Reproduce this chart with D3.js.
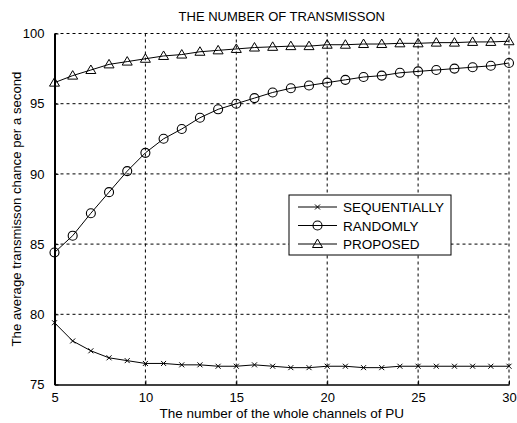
<!DOCTYPE html>
<html>
<head>
<meta charset="utf-8">
<script src="https://cdnjs.cloudflare.com/ajax/libs/d3/7.8.5/d3.min.js"></script>
<style>
  body { margin: 0; background: #fff; }
  svg text { font-family: "Liberation Sans", Arial, sans-serif; fill: #000; }
  .grid line { stroke: #000; stroke-width: 1; stroke-dasharray: 3,3; }
</style>
</head>
<body>
<script>
// channel counts on the x axis
const channels = d3.range(5, 31);

const sequentially = [79.4, 78.1, 77.4, 76.9, 76.7, 76.5, 76.5, 76.4, 76.4, 76.3, 76.3, 76.4, 76.3, 76.2, 76.2,
    76.3, 76.3, 76.2, 76.2, 76.3, 76.3, 76.3, 76.3, 76.3, 76.3, 76.3];
const randomly = [84.4, 85.6, 87.2, 88.7, 90.2, 91.5, 92.5, 93.2, 94.0, 94.6, 95.0, 95.4, 95.8, 96.1, 96.3,
    96.5, 96.7, 96.9, 97.0, 97.2, 97.3, 97.4, 97.5, 97.6, 97.7, 97.9];
const proposed = [96.5, 97.0, 97.4, 97.8, 98.0, 98.2, 98.4, 98.5, 98.7, 98.8, 98.9, 99.0, 99.05, 99.1, 99.1,
    99.2, 99.2, 99.25, 99.25, 99.3, 99.3, 99.35, 99.35, 99.4, 99.4, 99.45];

const xTicks = [5, 10, 15, 20, 25, 30];
const yTicks = [75, 80, 85, 90, 95, 100];
const seriesNames = ['SEQUENTIALLY', 'RANDOMLY', 'PROPOSED'];

const width = 517, height = 423;
const margin = { 'top': 33.5, 'bottom': 38.5, 'left': 54.5, 'right': 8 };

const svg = d3.select('body').append('svg')
    .attr('width', width)
    .attr('height', height);

let xScale = d3.scaleLinear().domain([5, 30]).range([margin.left, width - margin.right]);
let yScale = d3.scaleLinear().domain([75, 100]).range([height - margin.bottom, margin.top]);

// dotted grid
let grid = svg.append('g').attr('class', 'grid');
grid.selectAll('line.v').data(xTicks.slice(1)).enter().append('line')
    .attr('x1', d => xScale(d)).attr('x2', d => xScale(d))
    .attr('y1', yScale(75)).attr('y2', yScale(100));
grid.selectAll('line.h').data(yTicks.slice(1)).enter().append('line')
    .attr('x1', xScale(5)).attr('x2', xScale(30))
    .attr('y1', d => yScale(d)).attr('y2', d => yScale(d));

// axes, ticks pointing inward
svg.append('g')
    .attr('transform', 'translate(0,' + yScale(75) + ')')
    .call(d3.axisBottom(xScale).tickValues(xTicks).tickSizeInner(-4).tickSizeOuter(0).tickPadding(8))
    .call(g => g.select('.domain').attr('stroke-width', 1.5))
    .selectAll('text').style('font-size', '13px');

svg.append('g')
    .attr('transform', 'translate(' + xScale(5) + ',0)')
    .call(d3.axisLeft(yScale).tickValues(yTicks).tickSizeInner(-4).tickSizeOuter(0).tickPadding(10))
    .call(g => g.select('.domain').attr('stroke-width', 2))
    .selectAll('text').style('font-size', '13px');

// title and labels
svg.append('text')
    .attr('x', (xScale(5) + xScale(30)) / 2)
    .attr('y', 21)
    .attr('text-anchor', 'middle')
    .style('font-size', '13px')
    .text('THE NUMBER OF TRANSMISSON');

svg.append('text')
    .attr('x', (xScale(5) + xScale(30)) / 2)
    .attr('y', 418)
    .attr('text-anchor', 'middle')
    .style('font-size', '13.5px')
    .text('The number of the whole channels of PU');

svg.append('text')
    .attr('transform', 'translate(21,' + (yScale(75) + yScale(100)) / 2 + ') rotate(-90)')
    .attr('text-anchor', 'middle')
    .style('font-size', '13.2px')
    .text('The average transmisson chance per a second');

// markers
function drawMarker(g, type, cx, cy) {
    if (type === 0) {
        g.append('path')
            .attr('d', 'M' + (cx - 2.5) + ',' + (cy - 2.5) + 'L' + (cx + 2.5) + ',' + (cy + 2.5) +
                'M' + (cx - 2.5) + ',' + (cy + 2.5) + 'L' + (cx + 2.5) + ',' + (cy - 2.5))
            .attr('stroke', '#000').attr('stroke-width', 1);
    } else if (type === 1) {
        g.append('circle').attr('cx', cx).attr('cy', cy).attr('r', 4.5)
            .attr('fill', 'none').attr('stroke', '#000').attr('stroke-width', 1.1);
    } else {
        g.append('path')
            .attr('d', 'M' + cx + ',' + (cy - 5) + 'L' + (cx + 5) + ',' + (cy + 3.5) + 'L' + (cx - 5) + ',' + (cy + 3.5) + 'Z')
            .attr('fill', 'none').attr('stroke', '#000').attr('stroke-width', 1);
    }
}

let line = d3.line()
    .x((d, i) => xScale(channels[i]))
    .y(d => yScale(d));

[sequentially, randomly, proposed].forEach((values, k) => {
    let g = svg.append('g');
    g.append('path')
        .datum(values)
        .attr('fill', 'none')
        .attr('stroke', '#000')
        .attr('stroke-width', 1)
        .attr('d', line);
    values.forEach((v, i) => drawMarker(g, k, xScale(channels[i]), yScale(v)));
});

// legend
let legend = svg.append('g').attr('transform', 'translate(289,195)');
legend.append('rect')
    .attr('width', 162).attr('height', 60)
    .attr('fill', '#fff').attr('stroke', '#000').attr('stroke-width', 1);
seriesNames.forEach((name, k) => {
    let cy = 12 + k * 18.5;
    legend.append('line')
        .attr('x1', 9).attr('x2', 48).attr('y1', cy).attr('y2', cy)
        .attr('stroke', '#000').attr('stroke-width', 1);
    drawMarker(legend, k, 28.5, cy);
    legend.append('text')
        .attr('x', 54).attr('y', cy + 5)
        .style('font-size', '13.5px')
        .text(name);
});
</script>
</body>
</html>
